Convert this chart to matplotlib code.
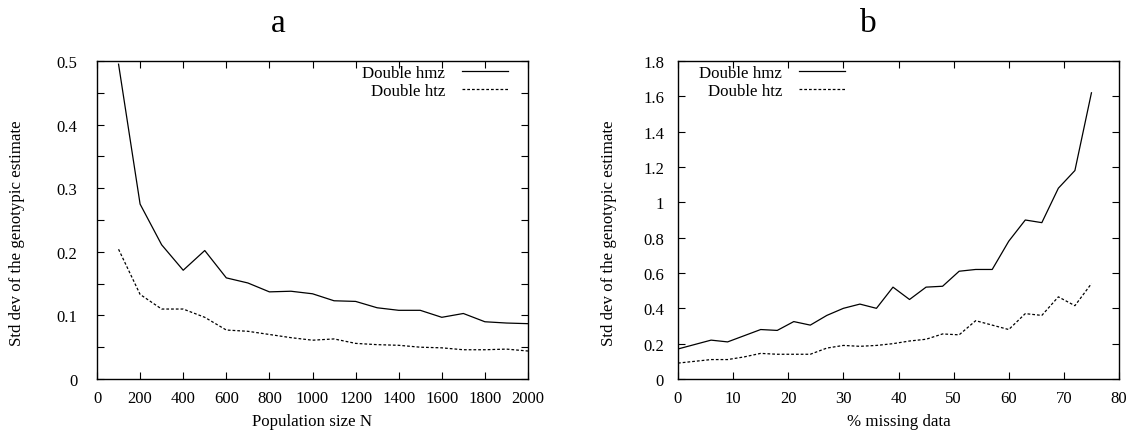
import matplotlib
matplotlib.use("Agg")
import matplotlib.pyplot as plt
from matplotlib.ticker import MultipleLocator, FuncFormatter

plt.rcParams['font.family'] = ['Liberation Serif', 'DejaVu Serif']
plt.rcParams['mathtext.fontset'] = 'stix'

# Panel a data
pop_size = [100, 200, 300, 400, 500, 600, 700, 800, 900, 1000,
            1100, 1200, 1300, 1400, 1500, 1600, 1700, 1800, 1900, 2000]
a_hmz = [0.495, 0.275, 0.211, 0.171, 0.202, 0.159, 0.151, 0.137, 0.138, 0.134,
         0.123, 0.122, 0.112, 0.108, 0.108, 0.097, 0.103, 0.090, 0.088, 0.087]
a_htz = [0.204, 0.133, 0.110, 0.110, 0.097, 0.077, 0.075, 0.070, 0.065, 0.061,
         0.063, 0.056, 0.054, 0.053, 0.050, 0.049, 0.046, 0.046, 0.047, 0.044]

# Panel b data
missing = [0, 3, 6, 9, 12, 15, 18, 21, 24, 27, 30, 33, 36, 39, 42, 45, 48, 51,
           54, 57, 60, 63, 66, 69, 72, 75]
b_hmz = [0.17, 0.195, 0.22, 0.21, 0.245, 0.28, 0.275, 0.325, 0.305, 0.36, 0.40,
         0.424, 0.40, 0.52, 0.45, 0.52, 0.525, 0.61, 0.62, 0.62, 0.78, 0.90,
         0.885, 1.08, 1.18, 1.62]
b_htz = [0.09, 0.10, 0.11, 0.11, 0.125, 0.145, 0.14, 0.14, 0.14, 0.175, 0.19,
         0.185, 0.19, 0.20, 0.215, 0.225, 0.255, 0.25, 0.33, 0.305, 0.28, 0.37,
         0.36, 0.465, 0.415, 0.54]

series_names = ["Double hmz", "Double htz"]
ylabel = "Std dev of the genotypic estimate"
panel_titles = ["a", "b"]

W, H = 1132, 435
fig = plt.figure(figsize=(W / 100, H / 100), dpi=100)
ax1 = fig.add_axes([97 / W, 1 - 380 / H, (528 - 97) / W, 318 / H])
ax2 = fig.add_axes([678 / W, 1 - 380 / H, (1119 - 678) / W, 318 / H])

dash = (0, (2.2, 1.6))
for ax in (ax1, ax2):
    for s in ax.spines.values():
        s.set_linewidth(1.0)
    ax.tick_params(direction='in', top=True, right=True, length=5, width=0.8,
                   labelsize=12)
    ax.tick_params(which='minor', direction='in', top=True, right=True,
                   length=5, width=0.8)
    ax.tick_params(axis='x', pad=8)

leg_kw = dict(frameon=False, markerfirst=False, fontsize=12.2,
              handlelength=2.7, handletextpad=1.0, labelspacing=0.1,
              borderaxespad=0.0, borderpad=0.0)

ylab_y = 0.5 - 12 / 318

# Panel a
ax1.plot(pop_size, a_hmz, color='black', lw=0.9, label=series_names[0])
ax1.plot(pop_size, a_htz, color='black', lw=0.9, linestyle=dash, label=series_names[1])
ax1.set_xlim(0, 2000)
ax1.set_ylim(0, 0.5)
ax1.xaxis.set_major_locator(MultipleLocator(200))
ax1.yaxis.set_major_locator(MultipleLocator(0.1))
ax1.yaxis.set_minor_locator(MultipleLocator(0.05))
ax1.yaxis.set_major_formatter(FuncFormatter(lambda v, p: f"{v:g}"))
ax1.tick_params(axis='y', pad=14)
ax1.set_xlabel("Population size N", fontsize=12.2)
ax1.xaxis.set_label_coords(0.5, -(414 - 380) / 318)
ax1.set_ylabel(ylabel, fontsize=12.2)
ax1.yaxis.set_label_coords(-(97 - 25) / 431, ylab_y)
ax1.legend(loc='upper right', bbox_to_anchor=((508 - 97) / 431, 1 - (66 - 62) / 318), **leg_kw)

# Panel b
ax2.plot(missing, b_hmz, color='black', lw=0.9, label=series_names[0])
ax2.plot(missing, b_htz, color='black', lw=0.9, linestyle=dash, label=series_names[1])
ax2.set_xlim(0, 80)
ax2.set_ylim(0, 1.8)
ax2.xaxis.set_major_locator(MultipleLocator(10))
ax2.yaxis.set_major_locator(MultipleLocator(0.2))
ax2.yaxis.set_major_formatter(FuncFormatter(lambda v, p: f"{round(v, 1):g}"))
ax2.tick_params(axis='y', pad=10)
ax2.set_xlabel("% missing data", fontsize=12.2)
ax2.xaxis.set_label_coords(0.5, -(414 - 380) / 318)
ax2.set_ylabel(ylabel, fontsize=12.2)
ax2.yaxis.set_label_coords(-(678 - 617) / 441, ylab_y)
ax2.legend(loc='upper left', bbox_to_anchor=((699 - 678) / 441, 1 - (66 - 62) / 318), **leg_kw)

# Panel titles
fig.text(278.5 / W, 1 - 32 / H, panel_titles[0], fontsize=24, ha='center', va='baseline')
fig.text(868 / W, 1 - 32 / H, panel_titles[1], fontsize=24, ha='center', va='baseline')

fig.savefig("out.png", dpi=100)
